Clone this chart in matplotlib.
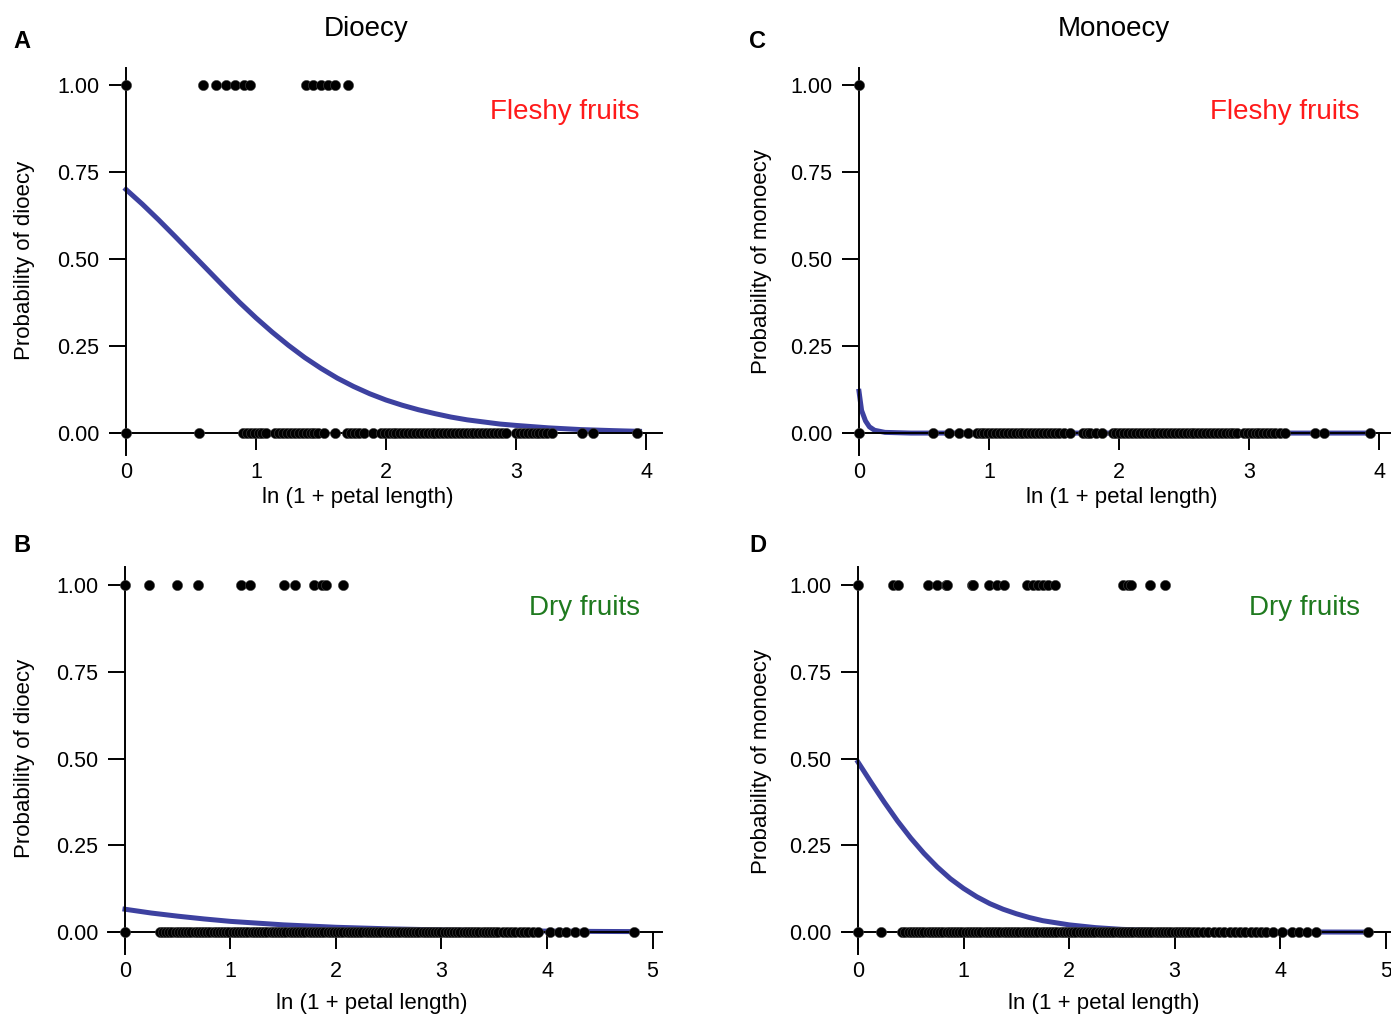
import matplotlib.pyplot as plt

plt.rcParams['font.family'] = ['Liberation Sans', 'DejaVu Sans']

# --- dati ---
# A: dioecia, frutti carnosi
a_x_one = [0.0, 0.59, 0.69, 0.77, 0.835, 0.91, 0.955, 1.385, 1.435, 1.50, 1.555, 1.61, 1.705]
a_x_zero = [0.0, 0.565,
            0.90, 0.93, 0.96, 0.99, 1.02, 1.05, 1.08, 1.15, 1.18, 1.21, 1.24, 1.27, 1.30, 1.33,
            1.36, 1.39, 1.42, 1.45, 1.48, 1.52, 1.61, 1.70, 1.73, 1.76, 1.79, 1.83, 1.90,
            1.96, 1.99, 2.02, 2.05, 2.08, 2.11, 2.14, 2.17, 2.20, 2.23, 2.26, 2.29, 2.32,
            2.35, 2.38, 2.41, 2.44, 2.47, 2.50, 2.53, 2.56, 2.59, 2.62, 2.65, 2.68, 2.71,
            2.74, 2.77, 2.80, 2.83, 2.86, 2.89, 2.92, 3.00, 3.03, 3.06, 3.09, 3.12, 3.15,
            3.18, 3.21, 3.24, 3.28, 3.51, 3.59, 3.93]
a_curve_x = [0.0, 0.125, 0.25, 0.375, 0.5, 0.625, 0.75, 0.875, 1.0, 1.125, 1.25, 1.375,
             1.5, 1.625, 1.75, 1.875, 2.0, 2.125, 2.25, 2.375, 2.5, 2.625, 2.75, 2.875,
             3.0, 3.25, 3.5, 3.75, 3.95]
a_curve_y = [0.70, 0.658, 0.613, 0.566, 0.518, 0.470, 0.422, 0.375, 0.331, 0.290, 0.252,
             0.217, 0.186, 0.158, 0.134, 0.113, 0.095, 0.080, 0.067, 0.056, 0.046, 0.038,
             0.032, 0.026, 0.022, 0.015, 0.010, 0.007, 0.005]

# C: monoecia, frutti carnosi
c_x_one = [0.0]
c_x_zero = [0.0, 0.57, 0.69, 0.77, 0.84,
            0.905, 0.935, 0.965, 0.995, 1.025, 1.055, 1.085, 1.115, 1.145, 1.175, 1.205,
            1.235, 1.265, 1.295, 1.325, 1.355, 1.385, 1.415, 1.445, 1.475, 1.505, 1.54,
            1.58, 1.62, 1.72, 1.75, 1.78, 1.82, 1.87,
            1.95, 1.98, 2.01, 2.04, 2.07, 2.10, 2.13, 2.16, 2.19, 2.22, 2.25, 2.28, 2.31,
            2.34, 2.37, 2.40, 2.43, 2.46, 2.49, 2.52, 2.55, 2.58, 2.61, 2.64, 2.67, 2.70,
            2.73, 2.76, 2.79, 2.82, 2.85, 2.88, 2.91, 2.96, 2.99, 3.02, 3.05, 3.08, 3.11,
            3.14, 3.17, 3.20, 3.24, 3.28, 3.51, 3.58, 3.93]
c_curve_x = [0.0, 0.02, 0.05, 0.08, 0.12, 0.2, 0.4, 1.0, 2.0, 3.0, 3.95]
c_curve_y = [0.12, 0.065, 0.035, 0.018, 0.008, 0.002, 0.0, 0.0, 0.0, 0.0, 0.0]

# B: dioecia, frutti secchi
b_x_one = [0.0, 0.227, 0.49, 0.695, 1.097, 1.185, 1.507, 1.61, 1.795, 1.87, 1.91, 2.07]
b_x_zero = [0.0,
            0.33, 0.36, 0.39, 0.42, 0.45, 0.48, 0.51, 0.54, 0.57, 0.60, 0.63, 0.66, 0.69,
            0.72, 0.75, 0.78, 0.81, 0.84, 0.87, 0.90, 0.93, 0.96, 0.99, 1.02, 1.05, 1.08,
            1.11, 1.14, 1.17, 1.20, 1.23, 1.26, 1.29, 1.32, 1.35, 1.38, 1.41, 1.44, 1.47,
            1.50, 1.53, 1.56, 1.59, 1.62, 1.65, 1.68, 1.71, 1.74, 1.77, 1.80, 1.83, 1.86,
            1.89, 1.92, 1.95, 1.98, 2.01, 2.04, 2.07, 2.10, 2.13, 2.16, 2.19, 2.22, 2.25,
            2.28, 2.31, 2.34, 2.37, 2.40, 2.43, 2.46, 2.49, 2.52, 2.55, 2.58, 2.61, 2.64,
            2.67, 2.70, 2.73, 2.76, 2.79, 2.82, 2.85, 2.88, 2.91, 2.94, 2.97, 3.00, 3.03,
            3.06, 3.09, 3.12, 3.15, 3.18, 3.21, 3.24, 3.27, 3.30, 3.33, 3.36, 3.39, 3.42,
            3.45, 3.48, 3.51, 3.54,
            3.58, 3.62, 3.66, 3.70, 3.74, 3.78, 3.82, 3.87, 3.91,
            4.03, 4.11, 4.18, 4.27, 4.35, 4.82]
b_curve_x = [0.0, 0.25, 0.5, 0.75, 1.0, 1.5, 2.0, 2.5, 3.0, 3.5, 4.0, 4.5, 4.85]
b_curve_y = [0.066, 0.055, 0.046, 0.038, 0.031, 0.021, 0.014, 0.0095, 0.0064, 0.0043,
             0.0029, 0.002, 0.0015]

# D: monoecia, frutti secchi
d_x_one = [0.0, 0.335, 0.382, 0.666, 0.745, 0.83, 0.84, 1.08, 1.09, 1.245, 1.315, 1.385,
           1.605, 1.66, 1.71, 1.755, 1.80, 1.87, 2.51, 2.56, 2.59, 2.77, 2.91]
d_x_zero = [0.0, 0.22,
            0.42, 0.45, 0.48, 0.51, 0.54, 0.57, 0.60, 0.63, 0.66, 0.69, 0.72, 0.75, 0.78,
            0.81, 0.84, 0.87, 0.90, 0.93, 0.96, 0.99, 1.02, 1.05, 1.08, 1.11, 1.14, 1.17,
            1.20, 1.23, 1.26, 1.29, 1.32, 1.35, 1.38, 1.41, 1.44, 1.47, 1.50, 1.53, 1.56,
            1.59, 1.62, 1.65, 1.68, 1.71, 1.74, 1.77, 1.80, 1.83, 1.86, 1.89, 1.92, 1.95,
            1.98, 2.01, 2.04, 2.07, 2.10, 2.13, 2.16, 2.19, 2.22, 2.25, 2.28, 2.31, 2.34,
            2.37, 2.40, 2.43, 2.46, 2.49, 2.52, 2.55, 2.58, 2.61, 2.64, 2.67, 2.70, 2.73,
            2.76, 2.79, 2.82, 2.85, 2.88, 2.91, 2.94, 2.97, 3.00, 3.03, 3.06, 3.09, 3.12,
            3.15, 3.18,
            3.22, 3.27, 3.32, 3.37, 3.42, 3.47, 3.52, 3.57, 3.62, 3.67, 3.72, 3.77, 3.82,
            3.87, 3.93, 4.02, 4.11, 4.18, 4.25, 4.34, 4.83]
d_curve_x = [0.0, 0.125, 0.25, 0.375, 0.5, 0.625, 0.75, 0.875, 1.0, 1.125, 1.25, 1.375,
             1.5, 1.625, 1.75, 1.875, 2.0, 2.25, 2.5, 3.0, 3.5, 4.0, 4.85]
d_curve_y = [0.49, 0.431, 0.374, 0.320, 0.271, 0.227, 0.188, 0.154, 0.126, 0.102, 0.082,
             0.066, 0.053, 0.042, 0.033, 0.027, 0.021, 0.013, 0.008, 0.003, 0.001, 0.0005,
             0.0001]

y_ticks = [0.0, 0.25, 0.5, 0.75, 1.0]
y_tick_labels = ['0.00', '0.25', '0.50', '0.75', '1.00']

curve_color = '#3d41a0'
red = '#ff1a1a'
green = '#1f7a1f'

W, H = 1391, 1017
fig = plt.figure(figsize=(W / 100, H / 100), dpi=100)


def make_panel(px_left, px_right, px_top, px_bottom, xlim, ylim, xticks,
               x_one, x_zero, cx, cy):
    ax = fig.add_axes([px_left / W, 1 - px_bottom / H,
                       (px_right - px_left) / W, (px_bottom - px_top) / H])
    ax.plot(cx, cy, color=curve_color, lw=3.6, zorder=2, solid_joinstyle='round')
    ax.scatter(x_zero, [0] * len(x_zero), s=54, color='black', edgecolors='#444444',
               linewidths=0.4, zorder=3, clip_on=False)
    ax.scatter(x_one, [1] * len(x_one), s=54, color='black', edgecolors='#444444',
               linewidths=0.4, zorder=3, clip_on=False)
    ax.set_xlim(*xlim)
    ax.set_ylim(*ylim)
    for s in ['top', 'right']:
        ax.spines[s].set_visible(False)
    ax.spines['left'].set_position(('data', 0))
    ax.spines['bottom'].set_position(('data', 0))
    for s in ['left', 'bottom']:
        ax.spines[s].set_linewidth(1.4)
    ax.set_xticks(xticks)
    ax.set_xticklabels([str(t) for t in xticks])
    ax.set_yticks(y_ticks)
    ax.set_yticklabels(y_tick_labels)
    ax.tick_params(direction='out', length=12, width=1.4, labelsize=15.5, pad=7)
    ax.tick_params(axis='x', pad=9)
    ax.patch.set_visible(False)
    return ax


make_panel(110, 662, 68, 455, (-0.123, 4.123), (-0.063, 1.049), [0, 1, 2, 3, 4],
           a_x_one, a_x_zero, a_curve_x, a_curve_y)
make_panel(843, 1391, 68, 455, (-0.123, 4.092), (-0.063, 1.049), [0, 1, 2, 3, 4],
           c_x_one, c_x_zero, c_curve_x, c_curve_y)
make_panel(108, 662, 567, 954, (-0.161, 5.09), (-0.063, 1.052), [0, 1, 2, 3, 4, 5],
           b_x_one, b_x_zero, b_curve_x, b_curve_y)
make_panel(843, 1391, 567, 954, (-0.142, 5.05), (-0.063, 1.052), [0, 1, 2, 3, 4, 5],
           d_x_one, d_x_zero, d_curve_x, d_curve_y)


def ftext(x, y, s, **kw):
    fig.text(x / W, 1 - y / H, s, **kw)


# titoli
ftext(366, 29, 'Dioecy', ha='center', va='center', fontsize=20)
ftext(1114, 29, 'Monoecy', ha='center', va='center', fontsize=20)

# lettere dei pannelli
for lab, x, y in [('A', 22, 41), ('B', 22, 546), ('C', 758, 41), ('D', 758, 546)]:
    ftext(x, y, lab, ha='center', va='center', fontsize=17, fontweight='bold')

# etichette assi
ftext(25, 260, 'Probability of dioecy', rotation=90, ha='center', va='center', fontsize=16)
ftext(25, 758, 'Probability of dioecy', rotation=90, ha='center', va='center', fontsize=16)
ftext(762, 262, 'Probability of monoecy', rotation=90, ha='center', va='center', fontsize=16)
ftext(762, 762, 'Probability of monoecy', rotation=90, ha='center', va='center', fontsize=16)
ftext(358, 497, 'ln (1 + petal length)', ha='center', va='center', fontsize=16)
ftext(1122, 497, 'ln (1 + petal length)', ha='center', va='center', fontsize=16)
ftext(372, 1004, 'ln (1 + petal length)', ha='center', va='center', fontsize=16)
ftext(1104, 1004, 'ln (1 + petal length)', ha='center', va='center', fontsize=16)

# tipo di frutto
ftext(640, 112, 'Fleshy fruits', ha='right', va='center', fontsize=20, color=red)
ftext(1360, 112, 'Fleshy fruits', ha='right', va='center', fontsize=20, color=red)
ftext(640, 608, 'Dry fruits', ha='right', va='center', fontsize=20, color=green)
ftext(1360, 608, 'Dry fruits', ha='right', va='center', fontsize=20, color=green)

fig.savefig('out.png', dpi=100)
